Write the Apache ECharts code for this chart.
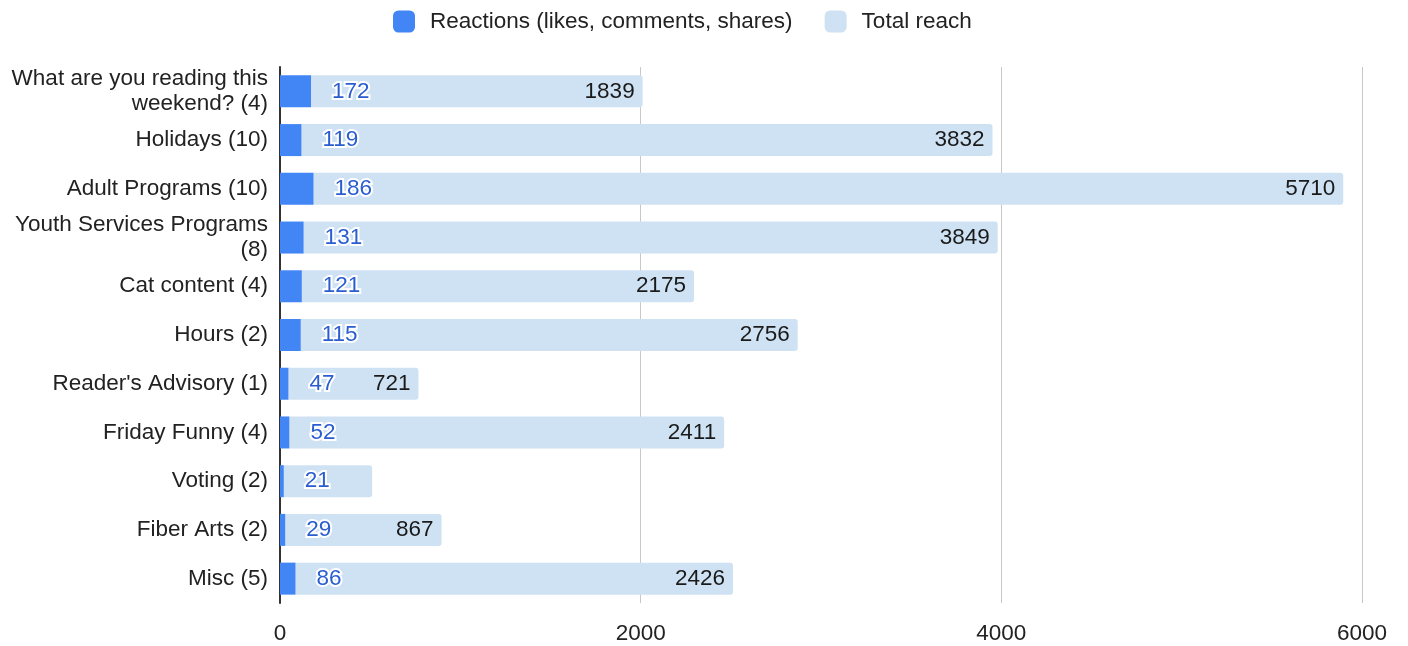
<!DOCTYPE html>
<html>
<head>
<meta charset="utf-8">
<script src="https://cdn.jsdelivr.net/npm/echarts@6/dist/echarts.min.js"></script>
<style>
  html, body { margin: 0; padding: 0; background: #fff; }
  #chart { width: 1408px; height: 646px; }
</style>
</head>
<body>
<div id="chart"></div>
<script>
// Post topics with the number of posts in brackets
const categories = [
  'What are you reading this weekend? (4)',
  'Holidays (10)',
  'Adult Programs (10)',
  'Youth Services Programs (8)',
  'Cat content (4)',
  'Hours (2)',
  "Reader's Advisory (1)",
  'Friday Funny (4)',
  'Voting (2)',
  'Fiber Arts (2)',
  'Misc (5)'
];
const reactions = [172, 119, 186, 131, 121, 115, 47, 52, 21, 29, 86];
const totalReach = [1839, 3832, 5710, 3849, 2175, 2756, 721, 2411, 490, 867, 2426];
// Reach values whose label would collide with the reactions label
const hiddenReachLabels = ['Voting (2)'];
const xTicks = [0, 2000, 4000, 6000];

const FONT = '"Liberation Sans", Arial, sans-serif';
const FS = 22.5;
const LABEL_WIDTH = 262;

// Word-wrap a category name to the label column, without trailing spaces
const measureCtx = document.createElement('canvas').getContext('2d');
measureCtx.font = FS + 'px ' + FONT;
function wrapLabel(text) {
  const words = text.split(' ');
  const lines = [];
  let line = '';
  words.forEach(w => {
    const next = line ? line + ' ' + w : w;
    if (line && measureCtx.measureText(next).width > LABEL_WIDTH) {
      lines.push(line);
      line = w;
    } else {
      line = next;
    }
  });
  if (line) lines.push(line);
  return lines.join('\n');
}

const chart = echarts.init(document.getElementById('chart'));
chart.setOption({
  animation: false,
  textStyle: { fontFamily: FONT },
  legend: {
    top: 5,
    left: 388,
    itemWidth: 22,
    itemHeight: 22,
    itemGap: 32,
    icon: 'roundRect',
    textStyle: { fontSize: FS, color: '#222', fontFamily: FONT, padding: [0, 0, 0, 10] },
    data: ['Reactions (likes, comments, shares)', 'Total reach']
  },
  grid: { left: 280, right: 46, top: 67, bottom: 43, containLabel: false },
  xAxis: {
    type: 'value',
    min: xTicks[0],
    max: xTicks[xTicks.length - 1],
    interval: 2000,
    axisLine: { show: false },
    axisTick: { show: false },
    splitLine: { lineStyle: { color: '#c8c8c8', width: 1 } },
    axisLabel: {
      fontSize: FS, color: '#222', margin: 19, fontFamily: FONT,
      formatter: v => String(v)
    }
  },
  yAxis: {
    type: 'category',
    inverse: true,
    data: categories,
    axisLine: { show: true, lineStyle: { color: '#333', width: 2 } },
    axisTick: { show: false },
    axisLabel: {
      fontSize: FS, color: '#222', margin: 12, fontFamily: FONT,
      lineHeight: 25, align: 'right',
      formatter: wrapLabel
    }
  },
  series: [
    {
      name: 'Reactions (likes, comments, shares)',
      type: 'bar',
      stack: 'posts',
      barWidth: 32,
      itemStyle: { color: '#4285F4' },
      label: {
        show: true,
        position: 'right',
        distance: 21,
        color: '#2A5DD0',
        fontSize: FS,
        fontFamily: FONT,
        textBorderColor: '#fff',
        textBorderWidth: 4
      },
      z: 3,
      data: reactions
    },
    {
      name: 'Total reach',
      type: 'bar',
      stack: 'posts',
      barWidth: 32,
      itemStyle: { color: '#CFE2F3', borderRadius: [0, 3, 3, 0] },
      label: {
        show: true,
        position: 'insideRight',
        distance: 8,
        color: '#1a1a1a',
        fontSize: FS,
        fontFamily: FONT
      },
      z: 2,
      data: totalReach.map((v, i) => hiddenReachLabels.includes(categories[i])
        ? { value: v, label: { show: false } }
        : v)
    }
  ]
});
</script>
</body>
</html>
